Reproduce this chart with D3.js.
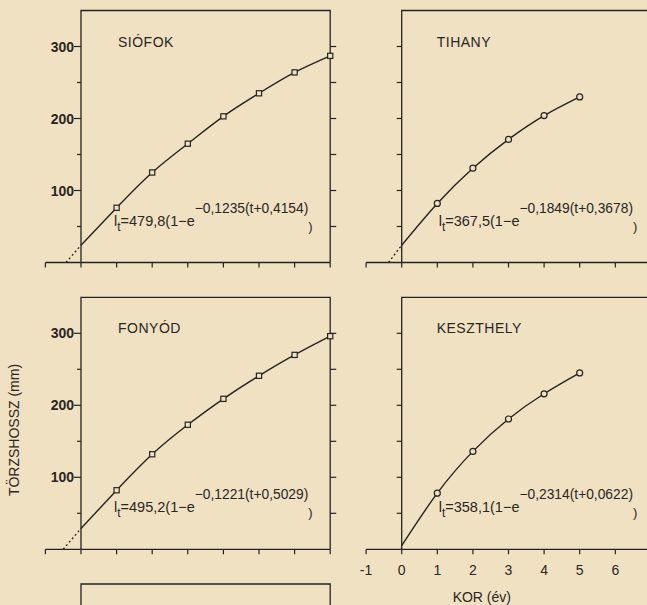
<!DOCTYPE html>
<html>
<head>
<meta charset="utf-8">
<script src="https://cdn.jsdelivr.net/npm/d3@7"></script>
<style>
  body { margin: 0; background: #f0e1c3; }
  svg { display: block; }
  text { font-family: "Liberation Sans", Arial, sans-serif; fill: #2a2622; }
</style>
</head>
<body>
<svg id="chart" width="647" height="605"></svg>
<script>
// mean standard length (mm) by age (years)
var ages = [1, 2, 3, 4, 5, 6, 7];
var siofok = [76, 125, 165, 203, 235, 264, 287];
var tihany = [82, 131, 171, 204, 230];
var fonyod = [82, 132, 173, 209, 241, 270, 296];
var keszthely = [78, 136, 181, 216, 245];

// where each fitted curve starts at age 0, and where its extension meets 0 mm
var startLength = [24, 24, 29, 5];
var zeroAge = [-0.42, -0.37, -0.50, 0];

var places = ['SIÓFOK', 'TIHANY', 'FONYÓD', 'KESZTHELY'];
var eqLinf = ['479,8', '367,5', '495,2', '358,1'];
var eqK = ['0,1235', '0,1849', '0,1221', '0,2314'];
var eqT0 = ['0,4154', '0,3678', '0,5029', '0,0622'];

var xTicks = [-1, 0, 1, 2, 3, 4, 5, 6, 7];
var xLabels = [-1, 0, 1, 2, 3, 4, 5, 6];
var yTicks = [50, 100, 150, 200, 250, 300];
var yLabels = [100, 200, 300];

var ink = '#262320',
  paper = '#f0e1c3',
  unit = 35.6,
  colX = [81, 401.7],
  rowBase = [262.5, 549.3],
  pxPerMm = 0.72;

var svg = d3.select('#chart');

var panels = [
  { col: 0, row: 0, values: siofok, marker: 'square' },
  { col: 1, row: 0, values: tihany, marker: 'circle' },
  { col: 0, row: 1, values: fonyod, marker: 'square' },
  { col: 1, row: 1, values: keszthely, marker: 'circle' }
];

panels.forEach(function(p, i) {
  var x0 = colX[p.col],
    base = rowBase[p.row];

  var x = d3.scaleLinear()
    .domain([-1, 7])
    .range([x0 - unit, x0 + 7 * unit]);
  var y = d3.scaleLinear()
    .domain([0, 350])
    .range([base, base - 350 * pxPerMm]);

  var g = svg.append('g').attr('class', 'panel');

  // frame (open at the bottom, the age axis closes it)
  g.append('path')
    .attr('d', 'M' + x(0) + ',' + y(0) + 'V' + y(350) + 'H' + x(7) + 'V' + y(0))
    .attr('fill', 'none')
    .attr('stroke', ink)
    .attr('stroke-width', 1.3);

  g.append('line')
    .attr('x1', x(-1)).attr('x2', x(7))
    .attr('y1', y(0)).attr('y2', y(0))
    .attr('stroke', ink)
    .attr('stroke-width', 1.3);

  g.selectAll('.xtick')
    .data(xTicks)
    .enter().append('line')
    .attr('class', 'xtick')
    .attr('x1', function(d) { return x(d); })
    .attr('x2', function(d) { return x(d); })
    .attr('y1', y(0))
    .attr('y2', y(0) + 5)
    .attr('stroke', ink)
    .attr('stroke-width', 1.2);

  // length ticks
  g.selectAll('.ytick')
    .data(yTicks)
    .enter().append('line')
    .attr('class', 'ytick')
    .attr('x1', x(0))
    .attr('x2', function(d) {
      if (p.col === 1) return x(0) - 5;
      return x(0) - (yLabels.indexOf(d) >= 0 ? 7 : 4);
    })
    .attr('y1', function(d) { return y(d); })
    .attr('y2', function(d) { return y(d); })
    .attr('stroke', ink)
    .attr('stroke-width', 1.2);

  if (p.col === 0) {
    g.selectAll('.ytickr')
      .data(yTicks)
      .enter().append('line')
      .attr('class', 'ytickr')
      .attr('x1', x(7))
      .attr('x2', x(7) + 6)
      .attr('y1', function(d) { return y(d); })
      .attr('y2', function(d) { return y(d); })
      .attr('stroke', ink)
      .attr('stroke-width', 1.2);

    g.selectAll('.ylabel')
      .data(yLabels)
      .enter().append('text')
      .attr('class', 'ylabel')
      .attr('x', x(0) - 7)
      .attr('y', function(d) { return y(d) + 5; })
      .attr('text-anchor', 'end')
      .style('font-size', '14px')
      .style('font-weight', 'bold')
      .text(function(d) { return d; });
  }

  // dotted back-extrapolation to zero length
  if (zeroAge[i] < 0) {
    g.append('line')
      .attr('x1', x(zeroAge[i])).attr('y1', y(0))
      .attr('x2', x(0)).attr('y2', y(startLength[i]))
      .attr('stroke', ink)
      .attr('stroke-width', 1.3)
      .attr('stroke-dasharray', '2,2.5');
  }

  var pts = [[0, startLength[i]]].concat(p.values.map(function(v, j) {
    return [ages[j], v];
  }));

  var line = d3.line()
    .x(function(d) { return x(d[0]); })
    .y(function(d) { return y(d[1]); })
    .curve(d3.curveNatural);

  g.append('path')
    .attr('d', line(pts))
    .attr('fill', 'none')
    .attr('stroke', ink)
    .attr('stroke-width', 1.4);

  var obs = pts.slice(1);
  if (p.marker === 'square') {
    g.selectAll('.mk')
      .data(obs)
      .enter().append('rect')
      .attr('class', 'mk')
      .attr('x', function(d) { return x(d[0]) - 2.6; })
      .attr('y', function(d) { return y(d[1]) - 2.6; })
      .attr('width', 5.2)
      .attr('height', 5.2)
      .attr('fill', paper)
      .attr('stroke', ink)
      .attr('stroke-width', 1.2);
  } else {
    g.selectAll('.mk')
      .data(obs)
      .enter().append('circle')
      .attr('class', 'mk')
      .attr('cx', function(d) { return x(d[0]); })
      .attr('cy', function(d) { return y(d[1]); })
      .attr('r', 3)
      .attr('fill', paper)
      .attr('stroke', ink)
      .attr('stroke-width', 1.2);
  }

  // place name
  g.append('text')
    .attr('x', x0 + (p.col === 0 ? 37 : 35))
    .attr('y', base - 216)
    .style('font-size', '14px')
    .style('letter-spacing', '0.5px')
    .text(places[i]);

  // von Bertalanffy equation
  var eq = g.append('text')
    .attr('x', x0 + (p.col === 0 ? 33 : 37))
    .attr('y', base - 37)
    .style('font-size', '14.5px');
  eq.append('tspan').text('l');
  eq.append('tspan').attr('dy', 5).style('font-size', '12px').text('t');
  eq.append('tspan').attr('dy', -5).text('=' + eqLinf[i] + '(1−e');
  eq.append('tspan').attr('dy', -13).style('font-size', '13.8px')
    .text('−' + eqK[i] + '(t+' + eqT0[i] + ')');
  eq.append('tspan').attr('dy', 18).style('font-size', '13px').text(')');

  if (p.col === 1 && p.row === 1) {
    g.selectAll('.xlabel')
      .data(xLabels)
      .enter().append('text')
      .attr('class', 'xlabel')
      .attr('x', function(d) { return x(d); })
      .attr('y', y(0) + 26)
      .attr('text-anchor', 'middle')
      .style('font-size', '14px')
      .text(function(d) { return d; });

    g.append('text')
      .attr('x', x(2.25))
      .attr('y', y(0) + 53)
      .attr('text-anchor', 'middle')
      .style('font-size', '14px')
      .text('KOR (év)');
  }
});

// the next panel, cut off by the page edge
svg.append('path')
  .attr('d', 'M' + colX[0] + ',640V584H' + (colX[0] + 7 * unit) + 'V640')
  .attr('fill', 'none')
  .attr('stroke', ink)
  .attr('stroke-width', 1.3);

svg.append('text')
  .attr('transform', 'translate(19,430) rotate(-90)')
  .attr('text-anchor', 'middle')
  .style('font-size', '14px')
  .text('TÖRZSHOSSZ (mm)');
</script>
</body>
</html>
